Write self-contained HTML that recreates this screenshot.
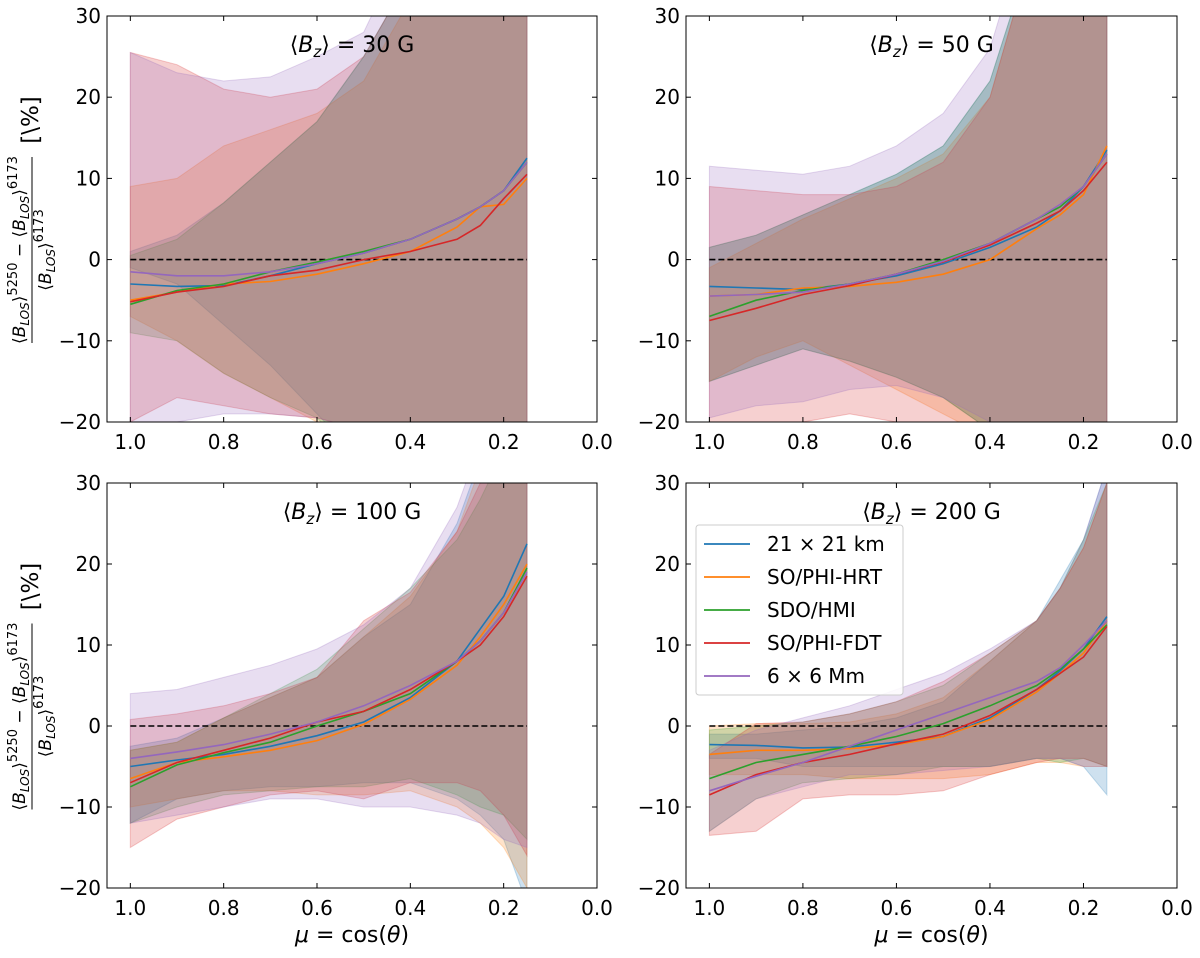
<!DOCTYPE html>
<html><head><meta charset="utf-8"><style>
body{margin:0;background:#fff;}
svg text{font-family:"DejaVu Sans","Liberation Sans",sans-serif;fill:#000;}
</style></head><body>
<svg id="fig" width="1200" height="953" viewBox="0 0 1200 953" xmlns="http://www.w3.org/2000/svg"></svg>
<script>
const mu = [1,0.9,0.8,0.7,0.6,0.5,0.4,0.3,0.25,0.2,0.15];
const seriesNames = ["21 × 21 km","SO/PHI-HRT","SDO/HMI","SO/PHI-FDT","6 × 6 Mm"];
const colors = ["#1f77b4","#ff7f0e","#2ca02c","#d62728","#9467bd"];
const panelTitles = ["30","50","100","200"];
const xTicks = [1.0,0.8,0.6,0.4,0.2,0.0];
const yTicks = [30,20,10,0,-10,-20];

// Panel 1: 30 G
const p1Mean = [
 [-3,-3.3,-3.2,-2,-0.5,0.8,2.5,5,6.5,8.5,12.5],
 [-5,-4,-3,-2.7,-1.8,-0.5,1,4,6.5,6.8,10],
 [-5.5,-3.8,-3,-1.5,-0.3,1,2.5,5,6.5,8.5,12],
 [-5.2,-4,-3.3,-2,-1.3,0,1,2.5,4.2,7.5,10.5],
 [-1.5,-2,-2,-1.5,-0.5,0.8,2.5,5,6.5,8.5,12]];
const p1Up = [
 [1,3,7,12,17,25,35,50,60,70,80],
 [9,10,14,16,18,22,32,50,60,70,80],
 [0.5,2.5,7,12,17,25,35,50,60,70,80],
 [25.5,24,21,20,21,25,35,50,60,70,80],
 [25.5,23,22,22.5,25,28,40,55,60,70,80]];
const p1Lo = [
 [-1,-3,-8,-13,-19,-25,-35,-50,-60,-70,-80],
 [-7,-10,-14,-17,-20,-25,-35,-50,-60,-70,-80],
 [-9,-10,-14,-17,-19.5,-25,-35,-50,-60,-70,-80],
 [-20,-17,-18,-19,-19.5,-21,-30,-50,-60,-70,-80],
 [-21,-20,-19,-19,-19.5,-21,-30,-50,-60,-70,-80]];
// Panel 2: 50 G
const p2Mean = [
 [-3.3,-3.5,-3.7,-3,-2,-0.5,1.5,4,6,9,13.5],
 [-4.5,-4.3,-3.5,-3.3,-2.8,-1.8,0,3.8,5.5,8,14],
 [-7,-5,-3.8,-3,-1.8,0,2,5,6.5,9,13],
 [-7.5,-6,-4.3,-3.2,-1.8,-0.3,1.8,4.5,6,8.5,12],
 [-4.5,-4.3,-4,-3,-1.8,-0.2,2,5,6.8,9,13]];
const p2Up = [
 [1.5,3,5.5,8,10.5,14,22,40,55,65,80],
 [-1,2,5,7.5,10,13,20,40,55,65,80],
 [1.5,3,5.5,8,10.5,14,22,40,55,65,80],
 [9,8.5,8,8,9,12,20,40,55,65,80],
 [11.5,11,10.5,11.5,14,18,26,45,55,65,80]];
const p2Lo = [
 [-15,-13,-11,-12.5,-14.5,-17,-21,-40,-55,-65,-80],
 [-15,-12,-10,-13,-16,-19,-22,-40,-55,-65,-80],
 [-15,-13,-11,-12.5,-14.5,-17,-21,-40,-55,-65,-80],
 [-23,-21,-20,-19,-20,-21,-25,-40,-55,-65,-80],
 [-19.5,-18,-17.5,-16,-15.5,-17,-20,-40,-55,-65,-80]];
// Panel 3: 100 G
const p3Mean = [
 [-5,-4.2,-3.5,-2.5,-1.2,0.5,3.5,8,12,16,22.5],
 [-6.5,-4.5,-3.8,-3,-1.8,0.2,3.3,7.5,11,15,20],
 [-7.5,-4.8,-3.3,-2,0,1.8,4,8,10.5,14,19.5],
 [-7,-4.5,-3,-1.5,0.5,1.8,4.5,8,10,13.5,18.5],
 [-4,-3.2,-2.3,-1,0.5,2.5,5,8,10.5,14,19]];
const p3Up = [
 [-2.5,-1.5,1,3.5,6,11,15,25,33,45,55],
 [-3,-2,1,3.5,6,11,16,24,32,42,50],
 [-3,-2,1,4,7,12,17,23,28,34,45],
 [0.8,1.5,2.5,4,6,13,16.5,24,30,40,50],
 [4,4.5,6,7.5,9.5,12.5,17,27,35,45,55]];
const p3Lo = [
 [-12,-9,-8,-7.5,-7.5,-7,-7,-9,-11,-14,-22],
 [-10,-9,-8,-8,-8.5,-8.5,-8,-10,-12,-15,-20],
 [-12,-10,-8.5,-8,-7.5,-7.5,-6.5,-8.5,-10,-11,-14],
 [-15,-11.5,-10,-8.5,-8,-9,-7,-7,-8,-11,-16],
 [-12,-11,-10,-9,-9,-10,-10,-11,-12,-14,-15]];
// Panel 4: 200 G
const p4Mean = [
 [-2.3,-2.4,-2.7,-2.6,-2,-1.3,1,4.5,6.8,9.5,13.5],
 [-3.5,-3,-3,-2.8,-2.3,-1.3,0.8,4.2,6.5,9,13],
 [-6.5,-4.5,-3.5,-2.5,-1.3,0.3,2.5,5,7,9.5,12.5],
 [-8.5,-6,-4.5,-3.5,-2.2,-1,1.3,4.5,6.5,8.5,12.3],
 [-8,-6.2,-4.5,-2.5,-0.5,1.5,3.5,5.5,7.2,10,13]];
const p4Up = [
 [-1,-1,-0.5,0,1,3,8,13,18,23,32],
 [0,0.3,0.3,0.5,1.5,3.5,8,13,17,22,30],
 [-0.5,0,0.5,1.5,3,5,9,13,17,23,30],
 [-3.5,0.3,0.5,1.5,3,5.5,9,13,17,22,30],
 [-3,-0.5,1,2.5,4.5,6.5,9.5,13,17,23,32]];
const p4Lo = [
 [-4,-4,-5,-5,-5,-5,-5,-4,-4,-5,-8.5],
 [-6,-6,-6,-6.5,-6.5,-6.5,-6,-4.5,-4.5,-5,-5],
 [-13,-9,-7,-6.5,-6,-5,-5,-4,-4.5,-4,-5],
 [-13.5,-13,-9,-8.5,-8.5,-8,-6,-4.5,-4,-4,-5],
 [-13,-9,-7.5,-6,-6,-5.5,-5,-4,-4,-5,-5]];

const panelMeans=[p1Mean,p2Mean,p3Mean,p4Mean];
const panelUps=[p1Up,p2Up,p3Up,p4Up];
const panelLos=[p1Lo,p2Lo,p3Lo,p4Lo];

const NS="http://www.w3.org/2000/svg";
const svg=document.getElementById('fig');
function mk(tag,attrs,parent){const e=document.createElementNS(NS,tag);for(const k in attrs)e.setAttribute(k,attrs[k]);(parent||svg).appendChild(e);return e;}

const boxes=[{x0:107,x1:597,y0:16,y1:422},{x0:686,x1:1177,y0:16,y1:422},{x0:107,x1:597,y0:483,y1:888},{x0:686,x1:1177,y0:483,y1:888}];

boxes.forEach((b,p)=>{
  const xs=v=>b.x1-(v-0.0)/(1.05)*(b.x1-b.x0);
  const ys=v=>b.y1-(v+20)/50*(b.y1-b.y0);
  const g=mk('g',{});
  
  
  const cp=mk('clipPath',{id:'clip'+p},g);
  mk('rect',{x:b.x0,y:b.y0,width:b.x1-b.x0,height:b.y1-b.y0},cp);
  const plot=mk('g',{'clip-path':'url(#clip'+p+')'},g);
  for(let s=0;s<5;s++){
    let d='';
    mu.forEach((m,i)=>{d+=(i?'L':'M')+xs(m).toFixed(1)+','+ys(panelUps[p][s][i]).toFixed(1);});
    for(let i=mu.length-1;i>=0;i--)d+='L'+xs(mu[i]).toFixed(1)+','+ys(panelLos[p][s][i]).toFixed(1);
    const band=mk('path',{d:d+'Z',fill:colors[s],'fill-opacity':0.22,stroke:colors[s],'stroke-opacity':0.25,'stroke-width':1},plot);
    
    
  }
  const zl=mk('line',{x1:xs(1),x2:xs(0.15),y1:ys(0),y2:ys(0),stroke:'#000','stroke-width':1.6,'stroke-dasharray':'6,3'},plot);
  
  
  for(let s=0;s<5;s++){
    const pts=mu.map((m,i)=>xs(m).toFixed(1)+','+ys(panelMeans[p][s][i]).toFixed(1)).join(' ');
    const ln=mk('polyline',{points:pts,fill:'none',stroke:colors[s],'stroke-width':1.6},plot);
    
    
  }
  mk('rect',{x:b.x0,y:b.y0,width:b.x1-b.x0,height:b.y1-b.y0,fill:'none',stroke:'#000','stroke-width':1},g);
  xTicks.forEach(t=>{
    const x=xs(t);
    mk('line',{x1:x,x2:x,y1:b.y1,y2:b.y1-5,stroke:'#000'},g);
    mk('line',{x1:x,x2:x,y1:b.y0,y2:b.y0+5,stroke:'#000'},g);
    const tl=mk('text',{x:x,y:b.y1+27,'font-size':20,'text-anchor':'middle'},g);
    tl.textContent=t.toFixed(1);
    
    
  });
  yTicks.forEach(t=>{
    const y=ys(t);
    mk('line',{x1:b.x0,x2:b.x0+5,y1:y,y2:y,stroke:'#000'},g);
    mk('line',{x1:b.x1,x2:b.x1-5,y1:y,y2:y,stroke:'#000'},g);
    const tl=mk('text',{x:b.x0-6,y:y+7,'font-size':20,'text-anchor':'end'},g);
    tl.textContent=t<0?'−'+(-t):String(t);
    
    
  });
  const tt=mk('text',{x:(b.x0+b.x1)/2,y:b.y0+36,'font-size':22,'text-anchor':'middle'},g);
  tt.innerHTML='⟨<tspan font-style="italic">B</tspan><tspan font-style="italic" font-size="15" dy="5">z</tspan><tspan dy="-5">⟩ = '+panelTitles[p]+' G</tspan>';
  
  
  if(p>=2){
    const xl=mk('text',{x:(b.x0+b.x1)/2,y:942,'font-size':22,'text-anchor':'middle'},g);
    xl.innerHTML='<tspan font-style="italic">μ</tspan> = cos(<tspan font-style="italic">θ</tspan>)';
    
    
  }
  if(p%2===0){
    const cy=(b.y0+b.y1)/2;
    const yl=mk('g',{transform:'translate(32,'+cy+') rotate(-90)'},g);
    
    
    const num=mk('text',{x:-31,y:-7,'font-size':17,'text-anchor':'middle'},yl);
    num.innerHTML='⟨<tspan font-style="italic">B</tspan><tspan font-style="italic" font-size="12" dy="4">LOS</tspan><tspan dy="-4">⟩</tspan><tspan font-size="13" dy="-8">5250</tspan><tspan dy="8"> − ⟨</tspan><tspan font-style="italic">B</tspan><tspan font-style="italic" font-size="12" dy="4">LOS</tspan><tspan dy="-4">⟩</tspan><tspan font-size="13" dy="-8">6173</tspan>';
    mk('line',{x1:-124,x2:62,y1:0,y2:0,stroke:'#000','stroke-width':1},yl);
    const den=mk('text',{x:-31,y:19,'font-size':17,'text-anchor':'middle'},yl);
    den.innerHTML='⟨<tspan font-style="italic">B</tspan><tspan font-style="italic" font-size="12" dy="4">LOS</tspan><tspan dy="-4">⟩</tspan><tspan font-size="13" dy="-8">6173</tspan>';
    const unit=mk('text',{x:99,y:6,'font-size':23,'text-anchor':'middle'},yl);
    unit.textContent='[\\%]';
  }
});

// legend in panel 4
const lg=mk('g',{});


mk('rect',{x:696,y:525,width:207,height:170,rx:3,fill:'#fff','fill-opacity':0.85,stroke:'#ccc'},lg);
seriesNames.forEach((n,i)=>{
  const y=544+i*33;
  mk('line',{x1:704,x2:750,y1:y,y2:y,stroke:colors[i],'stroke-width':1.8},lg);
  const t=mk('text',{x:767,y:y+7,'font-size':20},lg);
  t.textContent=n;
  
  
});
</script>
</body></html>
